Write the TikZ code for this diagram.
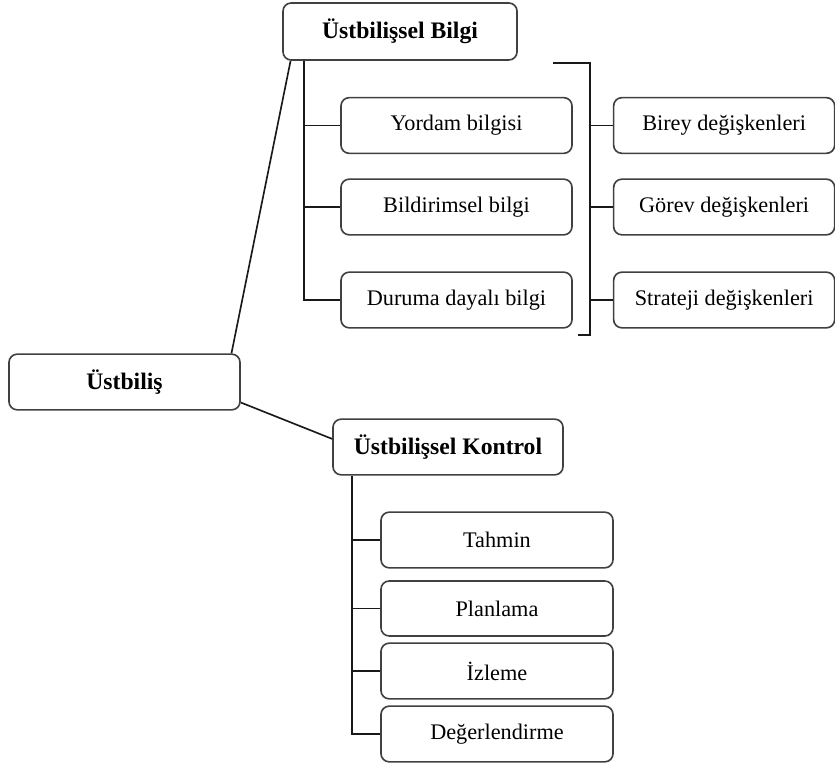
\documentclass[tikz,border=0pt]{standalone}
\usepackage{fontspec}
\setmainfont{Liberation Serif}
\usetikzlibrary{positioning}

\begin{document}
\begin{tikzpicture}[x=0.03cm, y=-0.03cm,
        box/.style={draw=black!75, rounded corners=7pt, line width=1.4pt,
            minimum width=6.93cm, minimum height=1.67cm, align=center,
            inner sep=0pt},
        main/.style={box, font=\fontsize{20.2}{22}\selectfont\bfseries},
        link/.style={line width=1.4pt, black!90},
        every node/.style={font=\fontsize{19}{22}\selectfont}]
        \useasboundingbox (0,0) rectangle (835,767);
        % knowledge branch
        \node[main, minimum width=7.02cm, minimum height=1.71cm] (bilgi) at (400,31.5) {Üstbilişsel Bilgi};
        \node[box] (yordam) at (456.5,125.5) {Yordam bilgisi};
        \node[box] (bildirim) at (456.5,207) {Bildirimsel bilgi};
        \node[box] (durum) at (456.5,300) {Duruma dayalı bilgi};
        \node[box, minimum width=6.63cm, right=1.2cm of yordam] (birey) {Birey değişkenleri};
        \node[box, minimum width=6.63cm, right=1.2cm of bildirim] (gorev) {Görev değişkenleri};
        \node[box, minimum width=6.63cm, right=1.2cm of durum] (strateji) {Strateji değişkenleri};
        % root and control branch
        \node[main] (ust) at (124.5,382) {Üstbiliş};
        \node[main, minimum width=6.9cm] (kontrol) at (448,447) {Üstbilişsel Kontrol};
        \node[box, minimum width=6.96cm] (tahmin) at (497,540) {Tahmin};
        \node[box, minimum width=6.96cm, minimum height=1.65cm] (plan) at (497,608.5) {Planlama};
        \node[box, minimum width=6.96cm] (izleme) at (497,671) {İzleme};
        \node[box, minimum width=6.96cm] (deger) at (497,734) {Değerlendirme};

        \draw[link] (bilgi.195) -- (ust.15);
        \draw[link] (ust.-10) -- (kontrol.176);

        \coordinate (bspine) at ([xshift=0.66cm]bilgi.south west);
        \draw[link] (bspine) -- (bspine |- durum.west) -- (durum.west);
        \foreach \n in {yordam, bildirim}
            \draw[link] (bspine |- \n.west) -- (\n.west);

        % bracket
        \coordinate (brace) at (590,63);
        \draw[link] (553,63) -- (brace) -- (590,335) -- (578,335);
        \foreach \n in {birey, gorev, strateji}
            \draw[link] (brace |- \n.west) -- (\n.west);

        \coordinate (kspine) at ([xshift=0.6cm]kontrol.south west);
        \draw[link] (kspine) -- (kspine |- deger.west) -- (deger.west);
        \foreach \n in {tahmin, plan, izleme}
            \draw[link] (kspine |- \n.west) -- (\n.west);
    \end{tikzpicture}
\end{document}
